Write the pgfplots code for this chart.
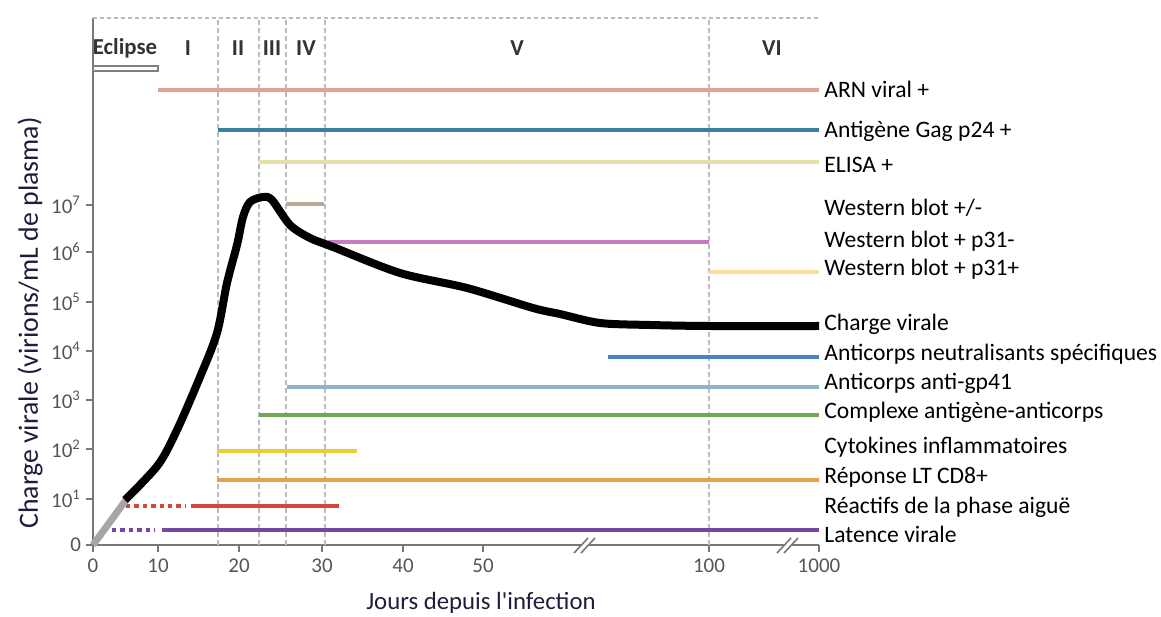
\documentclass[border=0pt]{standalone}
\usepackage{pgfplots}
\pgfplotsset{compat=1.18}
\usepackage{fontspec}
\setmainfont{Carlito}

% x: display position along the broken day axis (0 = day 0, 726 = day 1000)
% y: display height (0 = "0", 46 = 10^1, ..., 340 = 10^7)
\definecolor{axiscol}{HTML}{777777}
\definecolor{tickcol}{HTML}{555555}
\definecolor{gridcol}{HTML}{BBBBBB}
\definecolor{arn}{HTML}{E2A390}
\definecolor{gag}{HTML}{3B7F9C}
\definecolor{elisa}{HTML}{E2E2A4}
\definecolor{wbpm}{HTML}{B5AE95}
\definecolor{wbm}{HTML}{C97BC0}
\definecolor{wbp}{HTML}{FCDCA0}
\definecolor{neut}{HTML}{4A84C4}
\definecolor{gpf}{HTML}{8DB5C8}
\definecolor{cplx}{HTML}{6DAA55}
\definecolor{cyto}{HTML}{E8CF3A}
\definecolor{cdh}{HTML}{E9A048}
\definecolor{reac}{HTML}{D4453A}
\definecolor{lat}{HTML}{7447A0}
\definecolor{titlecol}{HTML}{1E1E3C}

\begin{document}
\begin{tikzpicture}
\path[use as bounding box] (-46.5pt,-35.5pt) rectangle (534pt,272.5pt);
\begin{axis}[
    at={(0pt,0pt)}, anchor=south west,
    scale only axis, width=363pt, height=263.5pt,
    xmin=0, xmax=726, ymin=0, ymax=527,
    clip=false,
    axis lines*=left,
    axis line style={-, axiscol, line width=1pt},
    xtick={0,65,146,229,310,390,616,726},
    xticklabels={0,10,20,30,40,50,100,1000},
    ytick={0,46,96,145,194,243,293,340},
    yticklabels={0,10\textsuperscript{1},10\textsuperscript{2},10\textsuperscript{3},
      10\textsuperscript{4},10\textsuperscript{5},10\textsuperscript{6},10\textsuperscript{7}},
    tick align=outside, major tick length=3.5pt,
    tick style={axiscol, line width=0.8pt},
    ticklabel style={font=\fontsize{10.5}{12}\selectfont, text=tickcol},
    yticklabel style={xshift=1pt},
    every axis plot/.append style={line cap=butt},
]
% frame top and phase boundaries
\addplot[gridcol, line width=0.8pt, dash pattern=on 2pt off 1.5pt] coordinates {(0,527) (728,527)};
\addplot[gridcol, line width=0.6pt, dash pattern=on 2.5pt off 1.5pt] coordinates {(125,0) (125,527)};
\addplot[gridcol, line width=0.6pt, dash pattern=on 2.5pt off 1.5pt] coordinates {(166,0) (166,527)};
\addplot[gridcol, line width=0.6pt, dash pattern=on 2.5pt off 1.5pt] coordinates {(193,0) (193,527)};
\addplot[gridcol, line width=0.6pt, dash pattern=on 2.5pt off 1.5pt] coordinates {(232,0) (232,527)};
\addplot[gridcol, line width=0.6pt, dash pattern=on 2.5pt off 1.5pt] coordinates {(616,0) (616,527)};

% phase labels
\draw[gray, line width=0.6pt, fill=white] (axis cs:0,474) rectangle (axis cs:65,479);
\begin{scope}[every node/.style={font=\bfseries\fontsize{11.4}{13}\selectfont, text=black!80}]
\node at (axis cs:32,497) {Eclipse};
\node at (axis cs:95,497) {I};
\node at (axis cs:145,497) {II};
\node at (axis cs:179,497) {III};
\node at (axis cs:213,497) {IV};
\node at (axis cs:424,497) {V};
\node at (axis cs:679,497) {VI};
\end{scope}

% marker bars
\addplot[arn, line width=2pt] coordinates {(65,455) (726,455)};
\addplot[gag, line width=2pt] coordinates {(125,415) (726,415)};
\addplot[elisa, line width=2pt] coordinates {(166,383) (726,383)};
\addplot[wbpm, line width=2pt] coordinates {(193,341) (231,341)};
\addplot[wbm, line width=2pt] coordinates {(235,303) (616,303)};
\addplot[wbp, line width=2pt] coordinates {(616,273) (726,273)};
\addplot[neut, line width=2pt] coordinates {(515,188) (726,188)};
\addplot[gpf, line width=2pt] coordinates {(194,158) (726,158)};
\addplot[cplx, line width=2pt] coordinates {(166,130) (726,130)};
\addplot[cyto, line width=2pt] coordinates {(124,94) (264,94)};
\addplot[cdh, line width=2pt] coordinates {(124,65) (726,65)};
\addplot[reac, line width=2pt, dash pattern=on 2.2pt off 2pt] coordinates {(33,39) (92,39)};
\addplot[reac, line width=2pt] coordinates {(98,39) (246,39)};
\addplot[lat, line width=2pt, dash pattern=on 2.2pt off 2pt] coordinates {(19,15) (62,15)};
\addplot[lat, line width=2pt] coordinates {(69,15) (726,15)};

% viral load
\addplot[gray!70, line width=3.5pt] coordinates {(0,0) (33,45)};
\addplot[black, line width=4pt, smooth, tension=0.5] coordinates {
  (32,45) (65,80) (84,115) (107,168) (124,212) (134,262) (144,300) (150,328)
  (157,343) (170,348) (179,345) (197,320) (217,307) (240,298) (307,272)
  (374,257) (440,237) (467,231) (507,222) (557,220) (616,219) (726,219)};

% axis breaks
\fill[white] (axis cs:482,-8) -- (axis cs:496,7) -- (axis cs:501,7) -- (axis cs:487,-8) -- cycle;
\draw[axiscol, line width=0.8pt] (axis cs:481,-8) -- (axis cs:495,7);
\draw[axiscol, line width=0.8pt] (axis cs:488,-8) -- (axis cs:502,7);
\fill[white] (axis cs:685,-8) -- (axis cs:699,7) -- (axis cs:704,7) -- (axis cs:690,-8) -- cycle;
\draw[axiscol, line width=0.8pt] (axis cs:684,-8) -- (axis cs:698,7);
\draw[axiscol, line width=0.8pt] (axis cs:691,-8) -- (axis cs:705,7);

% right-hand labels
\begin{scope}[every node/.style={anchor=mid west, inner sep=0pt, font=\fontsize{11.8}{14}\selectfont}]
\node at (axis cs:731,452) {ARN viral +};
\node at (axis cs:731,412) {Antigène Gag p24 +};
\node at (axis cs:731,377) {ELISA +};
\node at (axis cs:731,334) {Western blot +/-};
\node at (axis cs:731,302) {Western blot + p31-};
\node at (axis cs:731,274) {Western blot + p31+};
\node at (axis cs:731,219) {Charge virale};
\node at (axis cs:731,189) {Anticorps neutralisants spécifiques};
\node at (axis cs:731,160) {Anticorps anti-gp41};
\node at (axis cs:731,131) {Complexe antigène-anticorps};
\node at (axis cs:731,96) {Cytokines inflammatoires};
\node at (axis cs:731,66) {Réponse LT CD8+};
\node at (axis cs:731,36) {Réactifs de la phase aiguë};
\node at (axis cs:731,7) {Latence virale};
\end{scope}

% axis titles
\node[font=\fontsize{12.4}{14}\selectfont, text=titlecol] at (axis cs:388,-58) {Jours depuis l\textquotesingle infection};
\node[rotate=90, font=\fontsize{13.9}{16}\selectfont, text=titlecol] at (axis cs:-63,222) {Charge virale (virions/mL de plasma)};
\end{axis}
\end{tikzpicture}
\end{document}
